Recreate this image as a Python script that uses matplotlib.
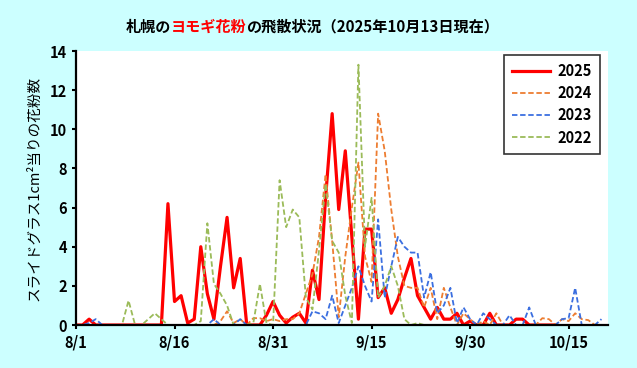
import numpy as np
import matplotlib
matplotlib.use("Agg")
import matplotlib.pyplot as plt

plt.rcParams['font.family'] = ['Noto Sans CJK JP', 'DejaVu Sans']

# day index: 0 = 8/1
y2025 = [0, 0, 0.3, 0, 0, 0, 0, 0, 0, 0,
         0, 0, 0, 0, 6.2, 1.2, 1.5, 0.1, 0.3, 4.0,
         1.6, 0.3, 3.0, 5.5, 1.9, 3.4, 0, 0, 0, 0.5,
         1.2, 0.5, 0.1, 0.4, 0.6, 0.1, 2.8, 1.3, 6.5, 10.8,
         5.9, 8.9, 4.5, 0.3, 4.9, 4.9, 1.4, 1.9, 0.6, 1.3,
         2.4, 3.4, 1.5, 0.9, 0.3, 0.9, 0.3, 0.3, 0.6, 0,
         0.2, 0, 0, 0.6, 0, 0, 0, 0.3, 0.3, 0,
         0, 0, 0, 0]
y2024 = [0, 0, 0, 0, 0, 0, 0, 0, 0, 0,
         0, 0, 0, 0, 0, 0, 0, 0, 0, 0,
         0, 0, 0.2, 0.7, 0.1, 0.3, 0, 0.35, 0.35, 0.2,
         0.3, 0.2, 0.3, 0.3, 0.6, 1.6, 2.6, 4.5, 7.7, 4.3,
         0.4, 3.5, 6.0, 8.3, 3.5, 2.2, 10.8, 8.9, 5.9, 3.5,
         2.0, 1.9, 1.9, 0.9, 1.9, 0.3, 1.9, 0.9, 0, 0.6,
         0.3, 0, 0.2, 0, 0.6, 0, 0, 0, 0, 0,
         0, 0.35, 0.3, 0, 0.3, 0.2, 0.6, 0.3, 0.25, 0,
         0]
y2023 = [0, 0, 0.1, 0.3, 0, 0, 0, 0, 0, 0,
         0, 0, 0, 0, 0, 0, 0, 0, 0, 0,
         0, 0.3, 0, 0, 0, 0.3, 0, 0, 0, 0,
         0, 0, 0, 0, 0, 0, 0.7, 0.6, 0.3, 1.5,
         0.1, 1.0, 1.9, 3.0, 2.0, 1.2, 5.4, 1.4, 3.0, 4.5,
         4.0, 3.7, 3.7, 1.4, 2.7, 0.6, 1.0, 1.9, 0.1, 0.9,
         0.3, 0, 0.6, 0.3, 0, 0, 0.5, 0, 0, 0.9,
         0, 0, 0, 0, 0.3, 0.35, 1.9, 0, 0, 0,
         0.3]
y2022 = [0, 0, 0, 0, 0, 0, 0, 0, 1.25, 0,
         0, 0.3, 0.6, 0.3, 0, 0, 0, 0, 0, 0.2,
         5.2, 2.1, 1.6, 1.0, 0, 0, 0, 0.1, 2.1, 0.1,
         0, 7.4, 5.0, 5.9, 5.5, 1.4, 0.8, 3.8, 7.2, 4.3,
         3.7, 1.5, 0.1, 13.3, 4.0, 6.5, 1.4, 2.0, 3.0, 2.0,
         0.3, 0, 0.1, 0, 0, 0, 0, 0, 0, 0,
         0]

series = [("2025", y2025, "#FF0000", "-", 2.3),
          ("2024", y2024, "#ED7D31", "--", 1.3),
          ("2023", y2023, "#3B6FE0", "--", 1.3),
          ("2022", y2022, "#9BBB59", "--", 1.3)]

tick_days = [0, 15, 30, 45, 60, 75]
tick_labels = ["8/1", "8/16", "8/31", "9/15", "9/30", "10/15"]

bg = "#CCFFFF"
fig = plt.figure(figsize=(6.37, 3.68), dpi=100, facecolor=bg)
ax = fig.add_axes([0.1193, 0.1168, 0.8352, 0.7446])
ax.set_facecolor("white")

for name, vals, col, ls, lw in series:
    ax.plot(np.arange(len(vals)), vals, color=col, linestyle=ls, linewidth=lw,
            label=name, dashes=(3, 1.5) if ls == "--" else (None, None))

ax.set_xlim(0, 81)
ax.set_ylim(0, 14)
ax.set_yticks(range(0, 15, 2))
ax.set_xticks(tick_days)
ax.set_xticklabels(tick_labels)
for s in ["top", "right"]:
    ax.spines[s].set_visible(False)
for s in ["left", "bottom"]:
    ax.spines[s].set_linewidth(1.6)
ax.tick_params(width=1.5, length=3, labelsize=10.5)
for lab in ax.get_xticklabels() + ax.get_yticklabels():
    lab.set_fontweight("bold")

ax.set_ylabel("スライドグラス1cm²当りの花粉数", fontsize=10.5, labelpad=6)

leg = ax.legend(loc="upper right", bbox_to_anchor=(0.985, 0.985), frameon=True,
                fancybox=False, edgecolor="black",
                handlelength=2.6, handletextpad=0.5, borderpad=0.55,
                labelspacing=0.42, borderaxespad=0,
                prop={"weight": "bold", "size": 10.5})
leg.get_frame().set_linewidth(1.2)

# title with red highlighted part
parts = [("札幌の", "black"), ("ヨモギ花粉", "#FF0000"),
         ("の飛散状況（2025年10月13日現在）", "black")]
fig.canvas.draw()
renderer = fig.canvas.get_renderer()
texts = []
widths = []
for t, c in parts:
    tx = fig.text(0, 0.928, t, color=c, fontsize=10.9, fontweight="bold",
                  va="center", ha="left")
    texts.append(tx)
    widths.append(tx.get_window_extent(renderer).width / fig.bbox.width)
x = 0.49 - sum(widths) / 2
for tx, w in zip(texts, widths):
    tx.set_x(x)
    x += w

fig.savefig("out.png", dpi=100, facecolor=bg)
